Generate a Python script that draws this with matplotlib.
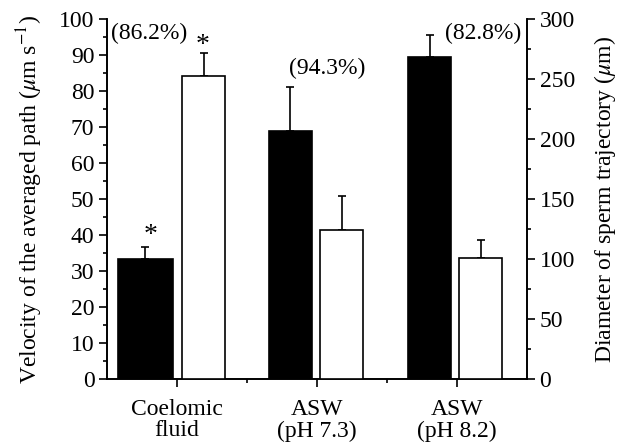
import matplotlib
matplotlib.use("Agg")
import matplotlib.pyplot as plt
from matplotlib.ticker import MultipleLocator, FixedLocator

plt.rcParams['font.family'] = ['Liberation Serif', 'DejaVu Serif']
plt.rcParams['mathtext.fontset'] = 'stix'

categories = ["Coelomic\nfluid", "ASW\n(pH 7.3)", "ASW\n(pH 8.2)"]
velocity = [33.5, 68.9, 89.5]          # µm s-1, left axis (black bars)
velocity_err = [3.1, 12.3, 6.2]
diameter = [253, 124, 101]             # µm, right axis (white bars)
diameter_err = [19, 29, 15]
percent_labels = ["(86.2%)", "(94.3%)", "(82.8%)"]

fig = plt.figure(figsize=(6.29, 4.45), dpi=100)
ax = fig.add_axes([0.170, 0.148, 0.668, 0.809])
ax2 = ax.twinx()

centers = [1, 3, 5]
black_pos = [0.55, 2.62, 4.61]
black_w = [0.786, 0.614, 0.614]
white_pos = [1.38, 3.35, 5.34]
white_w = 0.614

lw = 1.2
ax.bar(black_pos, velocity, width=black_w, color='black', edgecolor='black', linewidth=lw, zorder=3)
ax.errorbar(black_pos, velocity, yerr=[[0]*3, velocity_err], fmt='none', ecolor='black',
            elinewidth=lw, capsize=3, capthick=lw, zorder=2)
ax2.bar(white_pos, diameter, width=white_w, color='white', edgecolor='black', linewidth=lw, zorder=3)
ax2.errorbar(white_pos, diameter, yerr=[[0]*3, diameter_err], fmt='none', ecolor='black',
             elinewidth=lw, capsize=3, capthick=lw, zorder=2)

ax.set_xlim(0, 6)
ax.set_ylim(0, 100)
ax2.set_ylim(0, 300)

ax.yaxis.set_major_locator(MultipleLocator(10))
ax.yaxis.set_minor_locator(MultipleLocator(5))
ax2.yaxis.set_major_locator(MultipleLocator(50))
ax2.yaxis.set_minor_locator(MultipleLocator(25))
ax.set_xticks(centers)
ax.set_xticklabels(categories, linespacing=1.05)
ax.xaxis.set_minor_locator(FixedLocator([2, 4]))

fs = 17
for a in (ax, ax2):
    a.tick_params(which='major', direction='out', length=6, width=lw, labelsize=fs)
    a.tick_params(which='minor', direction='out', length=3, width=lw)
    for s in a.spines.values():
        s.set_linewidth(lw)
ax.spines['top'].set_visible(False)
ax2.spines['top'].set_visible(False)
ax.tick_params(axis='x', which='major', pad=8)
ax.tick_params(axis='y', pad=3)
ax2.tick_params(axis='y', pad=3)

ax.set_ylabel(r"Velocity of the averaged path ($\mu$m s$^{-1}$)", fontsize=fs, labelpad=10)
ax2.set_ylabel(r"Diameter of sperm trajectory ($\mu$m)", fontsize=fs, labelpad=12)

# annotations
ax.text(0.6, 96.1, percent_labels[0], ha='center', va='center', fontsize=fs)
ax.text(3.14, 86.4, percent_labels[1], ha='center', va='center', fontsize=fs)
ax.text(5.37, 96.1, percent_labels[2], ha='center', va='center', fontsize=fs)
ax.text(0.63, 40.0, "*", ha='center', va='center', fontsize=20)
ax.text(1.37, 92.8, "*", ha='center', va='center', fontsize=20)

fig.savefig("out.png", dpi=100)
